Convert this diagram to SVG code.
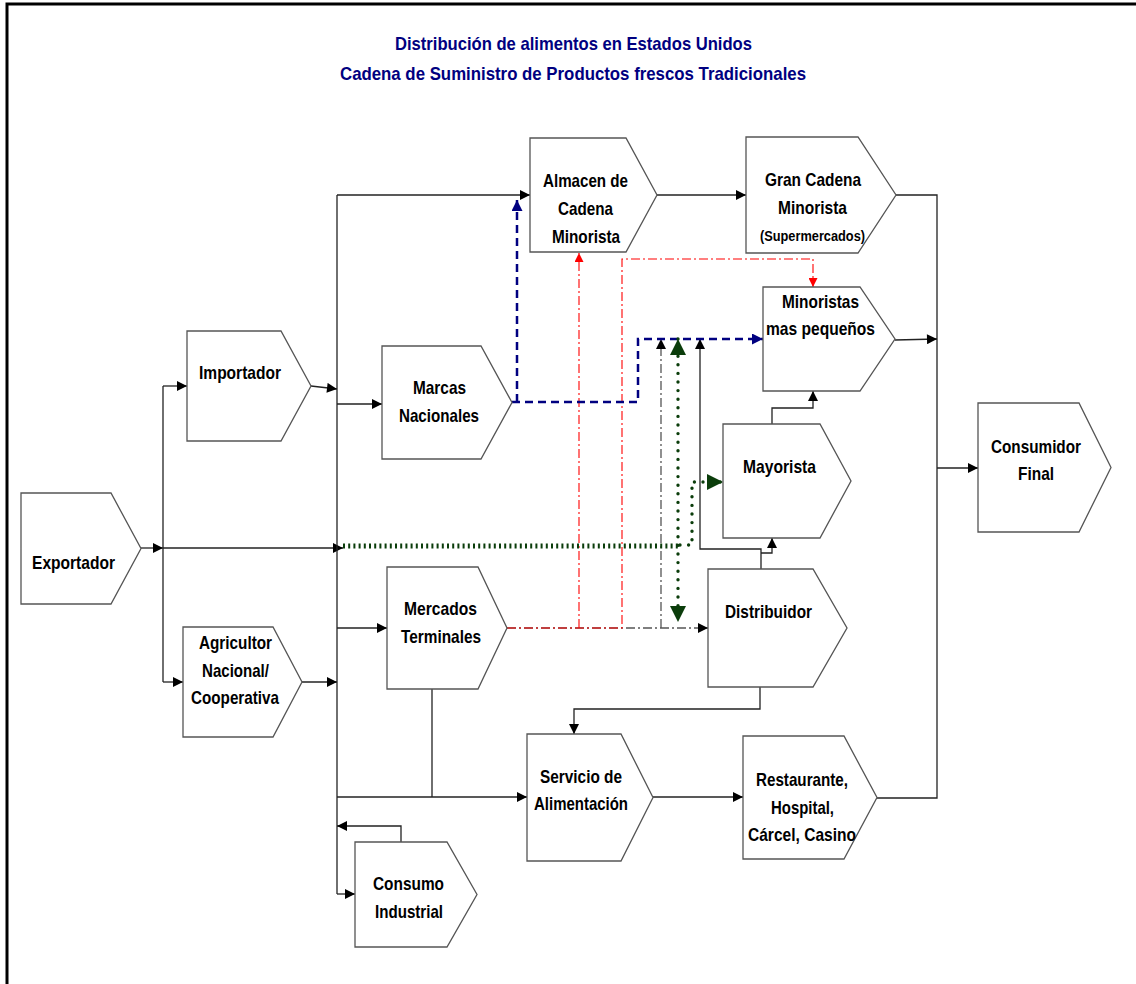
<svg xmlns="http://www.w3.org/2000/svg" width="1136" height="984" viewBox="0 0 1136 984">
<style>
.nd{fill:#fff;stroke:#555;stroke-width:1.3}
.t{font-family:"Liberation Sans",Arial,sans-serif;font-weight:bold;font-size:18.5px;fill:#000;text-anchor:middle}
.ts{font-size:14px}
.ttl{font-family:"Liberation Sans",Arial,sans-serif;font-weight:bold;font-size:18.5px;fill:#000080;text-anchor:middle}
.c{fill:none;stroke:#222;stroke-width:1.3}
.cg{fill:none;stroke:#555;stroke-width:1.3;stroke-dasharray:9 3 2 3}
.cb{fill:none;stroke:#000080;stroke-width:2.5;stroke-dasharray:8 5}
.cr{fill:none;stroke:#f00;stroke-width:1.1;stroke-dasharray:9 3 2 3}
.gh{fill:none;stroke:#0b3d0b;stroke-width:5;stroke-dasharray:2 3.2}
.gd{fill:none;stroke:#0b3d0b;stroke-width:3.4;stroke-linecap:round;stroke-dasharray:0 8.6}
</style>
<defs>
<marker id="ab" viewBox="0 0 10 10" refX="10" refY="5" markerWidth="11" markerHeight="10" markerUnits="userSpaceOnUse" orient="auto"><path d="M0,0 L10,5 L0,10z" fill="#000" stroke="none"/></marker>
<marker id="abl" viewBox="0 0 10 10" refX="10" refY="5" markerWidth="13" markerHeight="11" markerUnits="userSpaceOnUse" orient="auto"><path d="M0,0 L10,5 L0,10z" fill="#000080" stroke="none"/></marker>
<marker id="ar" viewBox="0 0 10 10" refX="10" refY="5" markerWidth="10" markerHeight="9" markerUnits="userSpaceOnUse" orient="auto"><path d="M0,0 L10,5 L0,10z" fill="#f00" stroke="none"/></marker>
<marker id="ag" viewBox="0 0 10 10" refX="10" refY="5" markerWidth="19" markerHeight="16" markerUnits="userSpaceOnUse" orient="auto-start-reverse"><path d="M0,0 L10,5 L0,10z" fill="#0b3d0b" stroke="none"/></marker>
</defs>
<rect x="0" y="0" width="1136" height="984" fill="#fff"/>
<path d="M7,984 V4 H1136" fill="none" stroke="#000" stroke-width="3"/>
<g id="title">
<text class="ttl" x="573.5" y="50" textLength="357" lengthAdjust="spacingAndGlyphs">Distribución de alimentos en Estados Unidos</text>
<text class="ttl" x="573" y="80" textLength="466" lengthAdjust="spacingAndGlyphs">Cadena de Suministro de Productos frescos Tradicionales</text>
</g>
<g id="connectors">
<path class="c" d="M141,548 H163" marker-end="url(#ab)"/>
<path class="c" d="M163,386 V682"/>
<path class="c" d="M163,386 H187" marker-end="url(#ab)"/>
<path class="c" d="M163,682 H183" marker-end="url(#ab)"/>
<path class="c" d="M163,548 H343" marker-end="url(#ab)"/>
<path class="c" d="M311,386 L337,389" marker-end="url(#ab)"/>
<path class="c" d="M337,404 H382" marker-end="url(#ab)"/>
<path class="c" d="M302,682 H337" marker-end="url(#ab)"/>
<path class="c" d="M337,628 H387" marker-end="url(#ab)"/>
<path class="c" d="M337,195 V894"/>
<path class="c" d="M337,195 H530" marker-end="url(#ab)"/>
<path class="c" d="M657,195 H746" marker-end="url(#ab)"/>
<path class="c" d="M896,195 H937 V798 H877"/>
<path class="c" d="M937,468 H978" marker-end="url(#ab)"/>
<path class="c" d="M895,340 L937,339" marker-end="url(#ab)"/>
<path class="c" d="M772,424 V408 H813 V391" marker-end="url(#ab)"/>
<path class="c" d="M761,553 H772 V538" marker-end="url(#ab)"/>
<path class="c" d="M761,569 V549 H700 V339" marker-end="url(#ab)"/>
<path class="c" d="M760,687 V709 H574 V734" marker-end="url(#ab)"/>
<path class="c" d="M432,689 V797"/>
<path class="c" d="M337,797 H527" marker-end="url(#ab)"/>
<path class="c" d="M653,797 H743" marker-end="url(#ab)"/>
<path class="c" d="M401,842 V826 H337" marker-end="url(#ab)"/>
<path class="c" d="M337,894 H355" marker-end="url(#ab)"/>
<path class="cg" d="M507,628 H708" marker-end="url(#ab)"/>
<path class="cg" d="M661,628 V339" marker-end="url(#ab)"/>
<path class="cr" d="M507,628 H622 V259 H813 V287" marker-end="url(#ar)"/>
<path class="cr" d="M579,628 V253" marker-end="url(#ar)"/>
<path class="cb" d="M512,402 H638 V339 H763" marker-end="url(#abl)"/>
<path class="cb" d="M517,402 V200" marker-end="url(#abl)"/>
<path class="gh" d="M343,546 H680"/>
<path class="gd" d="M680,545 H692 V482 H723" marker-end="url(#ag)"/>
<path class="gd" d="M678,339 V622" marker-start="url(#ag)" marker-end="url(#ag)"/>
</g>
<g id="exportador"><polygon class="nd" points="21,493 111,493 141,548.5 111,604 21,604"/><text class="t" x="73.5" y="569" textLength="83" lengthAdjust="spacingAndGlyphs">Exportador</text></g>
<g id="importador"><polygon class="nd" points="187,331 281,331 311,386 281,441 187,441"/><text class="t" x="240" y="379" textLength="82" lengthAdjust="spacingAndGlyphs">Importador</text></g>
<g id="agricultor"><polygon class="nd" points="183,627 273,627 302,682 273,737 183,737"/>
<text class="t" x="235.5" y="649" textLength="73" lengthAdjust="spacingAndGlyphs">Agricultor</text>
<text class="t" x="235.5" y="677" textLength="67" lengthAdjust="spacingAndGlyphs">Nacional/</text>
<text class="t" x="235" y="704" textLength="88" lengthAdjust="spacingAndGlyphs">Cooperativa</text></g>
<g id="marcas"><polygon class="nd" points="382,346 481,346 512,402.5 481,459 382,459"/>
<text class="t" x="439.5" y="394" textLength="53" lengthAdjust="spacingAndGlyphs">Marcas</text>
<text class="t" x="439" y="422" textLength="80" lengthAdjust="spacingAndGlyphs">Nacionales</text></g>
<g id="mercados"><polygon class="nd" points="387,567 478,567 507,628 478,689 387,689"/>
<text class="t" x="440.5" y="615" textLength="73" lengthAdjust="spacingAndGlyphs">Mercados</text>
<text class="t" x="441" y="643" textLength="80" lengthAdjust="spacingAndGlyphs">Terminales</text></g>
<g id="almacen"><polygon class="nd" points="530,138 626,138 657,195 626,252 530,252"/>
<text class="t" x="585.5" y="187" textLength="85" lengthAdjust="spacingAndGlyphs">Almacen de</text>
<text class="t" x="585.5" y="215" textLength="55" lengthAdjust="spacingAndGlyphs">Cadena</text>
<text class="t" x="586" y="243" textLength="68" lengthAdjust="spacingAndGlyphs">Minorista</text></g>
<g id="gran-cadena"><polygon class="nd" points="746,137 858,137 896,195 858,253 746,253"/>
<text class="t" x="813" y="186" textLength="96" lengthAdjust="spacingAndGlyphs">Gran Cadena</text>
<text class="t" x="812.5" y="214" textLength="69" lengthAdjust="spacingAndGlyphs">Minorista</text>
<text class="t ts" x="812.5" y="241" textLength="105" lengthAdjust="spacingAndGlyphs">(Supermercados)</text></g>
<g id="minoristas"><polygon class="nd" points="763,287 860,287 895,339 860,391 763,391"/>
<text class="t" x="820.5" y="308" textLength="77" lengthAdjust="spacingAndGlyphs">Minoristas</text>
<text class="t" x="820.5" y="335" textLength="109" lengthAdjust="spacingAndGlyphs">mas pequeños</text></g>
<g id="mayorista"><polygon class="nd" points="723,424 820,424 851,481 820,538 723,538"/>
<text class="t" x="779.5" y="473" textLength="73" lengthAdjust="spacingAndGlyphs">Mayorista</text></g>
<g id="distribuidor"><polygon class="nd" points="708,569 813,569 847,628 813,687 708,687"/>
<text class="t" x="768.5" y="618" textLength="87" lengthAdjust="spacingAndGlyphs">Distribuidor</text></g>
<g id="consumidor"><polygon class="nd" points="978,403 1079,403 1111,467.5 1079,532 978,532"/>
<text class="t" x="1036" y="453" textLength="90" lengthAdjust="spacingAndGlyphs">Consumidor</text>
<text class="t" x="1036" y="480" textLength="36" lengthAdjust="spacingAndGlyphs">Final</text></g>
<g id="servicio"><polygon class="nd" points="527,734 621,734 653,797.5 621,861 527,861"/>
<text class="t" x="581" y="783" textLength="82" lengthAdjust="spacingAndGlyphs">Servicio de</text>
<text class="t" x="581" y="810" textLength="94" lengthAdjust="spacingAndGlyphs">Alimentación</text></g>
<g id="restaurante"><polygon class="nd" points="743,736 844,736 877,797.5 844,859 743,859"/>
<text class="t" x="802" y="786" textLength="92" lengthAdjust="spacingAndGlyphs">Restaurante,</text>
<text class="t" x="802.5" y="814" textLength="63" lengthAdjust="spacingAndGlyphs">Hospital,</text>
<text class="t" x="802" y="841" textLength="108" lengthAdjust="spacingAndGlyphs">Cárcel, Casino</text></g>
<g id="consumo"><polygon class="nd" points="355,842 447,842 477,894.5 447,947 355,947"/>
<text class="t" x="408.5" y="890" textLength="71" lengthAdjust="spacingAndGlyphs">Consumo</text>
<text class="t" x="409" y="918" textLength="68" lengthAdjust="spacingAndGlyphs">Industrial</text></g>
</svg>
